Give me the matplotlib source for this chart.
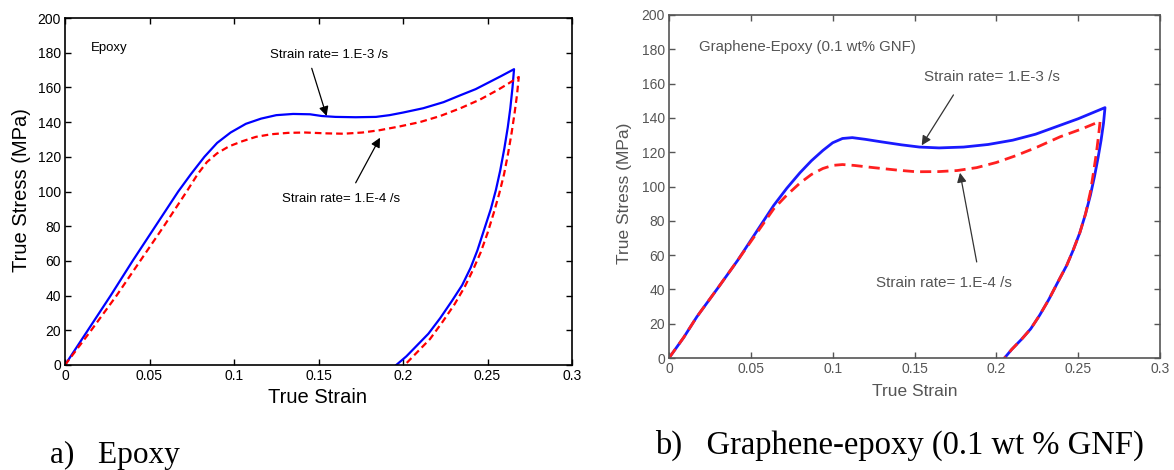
import matplotlib
matplotlib.use("Agg")
import matplotlib.pyplot as plt

# ---------------- data ----------------
# (a) Epoxy
epoxy_fast_strain = [0, 0.0135, 0.027, 0.040, 0.0535, 0.067, 0.0745, 0.0825, 0.090, 0.098, 0.107,
                     0.116, 0.125, 0.135, 0.145, 0.152, 0.160, 0.172, 0.184, 0.192, 0.200,
                     0.212, 0.224, 0.234, 0.243, 0.251, 0.258, 0.2657,
                     0.2648, 0.2635, 0.262, 0.260, 0.2575, 0.255, 0.252, 0.248, 0.244, 0.240,
                     0.235, 0.229, 0.222, 0.215, 0.208, 0.202, 0.196]
epoxy_fast_stress = [0, 20, 40, 60, 80, 100, 110, 120, 128, 134, 139,
                     142, 144, 144.7, 144.5, 143.5, 143, 142.8, 143, 144, 145.5,
                     148, 151.5, 155.5, 159, 163, 166.5, 170.5,
                     160, 148, 137, 125, 112, 101, 90, 78, 66, 56,
                     46, 37, 27, 18, 11, 5, 0]

epoxy_slow_strain = [0, 0.0155, 0.0305, 0.0445, 0.0585, 0.072, 0.0785, 0.084, 0.090, 0.097, 0.105,
                     0.113, 0.122, 0.132, 0.142, 0.155, 0.165, 0.176, 0.186, 0.198, 0.210,
                     0.222, 0.234, 0.2456, 0.256, 0.262, 0.2685,
                     0.2675, 0.266, 0.2643, 0.2622, 0.2598, 0.257, 0.2538, 0.250, 0.246, 0.2415,
                     0.2365, 0.2305, 0.2235, 0.216, 0.209, 0.201]
epoxy_slow_stress = [0, 20, 40, 60, 80, 100, 110, 117, 122, 126, 129,
                     131.5, 133, 133.8, 134, 133.5, 133.3, 134, 135.3, 137.5, 140,
                     143.5, 148, 153, 158.5, 162, 166,
                     156, 145, 134, 122, 110, 99, 88, 76, 65, 55,
                     45, 35, 25, 15, 8, 0]

# (b) Graphene-epoxy (0.1 wt% GNF)
gnf_fast_strain = [0, 0.009, 0.017, 0.030, 0.042, 0.053, 0.064, 0.072, 0.080, 0.087, 0.094, 0.100,
                   0.106, 0.112, 0.120, 0.130, 0.142, 0.153, 0.165, 0.180, 0.195, 0.210, 0.224,
                   0.237, 0.250, 0.2664,
                   0.2655, 0.264, 0.2622, 0.2600, 0.2575, 0.2545, 0.251, 0.247, 0.243, 0.238,
                   0.232, 0.2265, 0.221, 0.2155, 0.2094, 0.205]
gnf_fast_stress = [0, 12, 24, 41, 57, 73, 89, 99, 108, 115, 121, 125.5,
                   128, 128.5, 127.5, 126, 124.3, 123, 122.5, 123, 124.5, 127, 130.5,
                   135, 139.5, 146,
                   137, 127, 117, 106, 95, 84, 73, 63, 54, 45,
                   34, 25, 17, 11, 5, 0]

gnf_slow_strain = [0, 0.009, 0.017, 0.030, 0.042, 0.053, 0.064, 0.072, 0.080, 0.087, 0.094, 0.100,
                   0.106, 0.113, 0.125, 0.140, 0.151, 0.165, 0.176, 0.188, 0.200, 0.212, 0.225,
                   0.239, 0.252, 0.2634,
                   0.2625, 0.2612, 0.2595, 0.2575, 0.2545, 0.251, 0.247, 0.243, 0.238,
                   0.232, 0.2265, 0.221, 0.2155, 0.2094, 0.205]
gnf_slow_stress = [0, 12, 24, 41, 57, 72, 87, 95, 102, 107, 110.5, 112.3,
                   112.8, 112.3, 111, 109.5, 108.6, 108.7, 109.3, 111, 114, 118, 123,
                   129, 133.5, 138,
                   130, 120, 109, 97, 84, 73, 63, 54, 45,
                   34, 25, 17, 11, 5, 0]

x_ticks = [0, 0.05, 0.1, 0.15, 0.2, 0.25, 0.3]
x_tick_labels = ["0", "0.05", "0.1", "0.15", "0.2", "0.25", "0.3"]
y_ticks = [0, 20, 40, 60, 80, 100, 120, 140, 160, 180, 200]

# ---------------- figure ----------------
plt.rcParams['font.family'] = ['Liberation Sans', 'DejaVu Sans']
fig = plt.figure(figsize=(11.74, 4.70), dpi=100)

axA = fig.add_axes([65/1174, 1-365/470, 507/1174, 347/470])
axB = fig.add_axes([669/1174, 1-358/470, 491/1174, 343/470])


def style(ax, col, tickfs, labfs, ylab_xy, xlab_xy):
    ax.set_xlim(0, 0.3)
    ax.set_ylim(0, 200)
    ax.set_xticks(x_ticks)
    ax.set_xticklabels(x_tick_labels)
    ax.set_yticks(y_ticks)
    ax.tick_params(direction='in', length=4, width=1, colors=col, labelsize=tickfs,
                   top=True, right=True, pad=3)
    for s in ax.spines.values():
        s.set_color(col)
        s.set_linewidth(1.2)
    ax.set_xlabel("True Strain", fontsize=labfs, color=col)
    ax.set_ylabel("True Stress (MPa)", fontsize=labfs, color=col)
    ax.yaxis.set_label_coords(*ylab_xy)
    ax.xaxis.set_label_coords(*xlab_xy)
    ax.xaxis.label.set_va('center')
    ax.yaxis.label.set_va('center')


def arrow(ax, tail, head, col):
    ax.annotate("", xy=head, xytext=tail,
                arrowprops=dict(arrowstyle='-|>', color=col, lw=0.9, mutation_scale=14,
                                shrinkA=0, shrinkB=0))


# ---- panel a ----
axA.plot(epoxy_fast_strain, epoxy_fast_stress, color='#0000ff', lw=1.6, solid_joinstyle='round')
axA.plot(epoxy_slow_strain, epoxy_slow_stress, color='#ff0000', lw=1.6, ls=(0, (3, 1.8)))
style(axA, 'black', 10, 14.5, (-0.085, 0.504), (0.499, -0.095))
axA.text(0.0155, 182.5, "Epoxy", fontsize=9.5, ha='left', va='center')
axA.text(0.156, 178.5, "Strain rate= 1.E-3 /s", fontsize=9.5, ha='center', va='center')
axA.text(0.1636, 95.7, "Strain rate= 1.E-4 /s", fontsize=9.5, ha='center', va='center')
arrow(axA, (0.146, 171), (0.1548, 143.5), 'black')
arrow(axA, (0.172, 105), (0.1864, 131), 'black')

# ---- panel b ----
gray = '#555555'
axB.plot(gnf_fast_strain, gnf_fast_stress, color='#1a1aff', lw=2.0, solid_joinstyle='round')
axB.plot(gnf_slow_strain, gnf_slow_stress, color='#ff2020', lw=2.0, ls=(0, (4, 2.2)))
style(axB, gray, 10, 12.5, (-0.09, 0.48), (0.501, -0.099))
axB.text(0.0183, 181.3, "Graphene-Epoxy (0.1 wt% GNF)", fontsize=10.8, color=gray,
         ha='left', va='center')
axB.text(0.1558, 163.8, "Strain rate= 1.E-3 /s", fontsize=11, color=gray,
         ha='left', va='center')
axB.text(0.1265, 43.7, "Strain rate= 1.E-4 /s", fontsize=11, color=gray,
         ha='left', va='center')
arrow(axB, (0.1738, 153.4), (0.1544, 124), '#333333')
arrow(axB, (0.188, 56), (0.1778, 108), '#333333')

# ---- captions ----
fig.text(50/1174, 1-455/470, "a)   Epoxy", fontsize=22.5, family=['Liberation Serif', 'DejaVu Serif'],
         ha='left', va='center')
fig.text(655/1174, 1-445/470, "b)   Graphene-epoxy (0.1 wt % GNF)", fontsize=23.5,
         family=['Liberation Serif', 'DejaVu Serif'], ha='left', va='center')

fig.savefig("out.png", dpi=100)
